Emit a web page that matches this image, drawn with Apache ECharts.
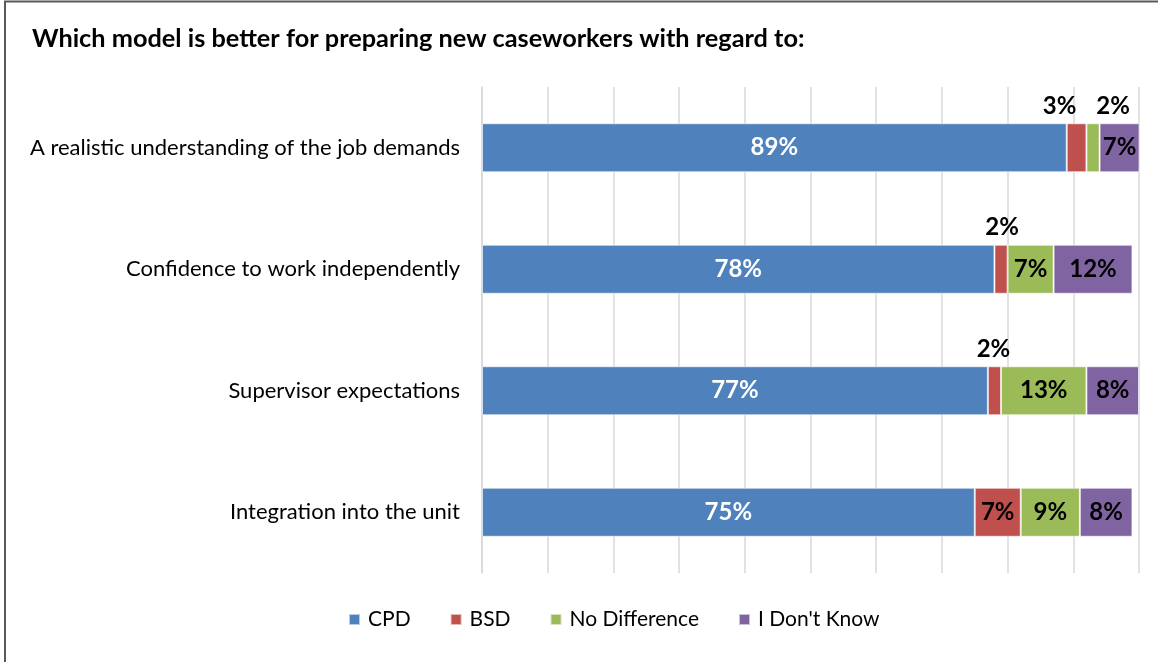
<!DOCTYPE html>
<html>
<head>
<meta charset="utf-8">
<script src="https://cdn.jsdelivr.net/npm/echarts@6/dist/echarts.min.js"></script>
<style>
  html, body { margin: 0; padding: 0; background: #ffffff; }
  #chart { width: 1158px; height: 662px; }
</style>
</head>
<body>
<div id="chart"></div>
<script>
// Survey items (top to bottom)
const categories = [
  'A realistic understanding of the job demands',
  'Confidence to work independently',
  'Supervisor expectations',
  'Integration into the unit'
];

// Percent of respondents per answer
const cpd          = [89, 78, 77, 75];
const bsd          = [3, 2, 2, 7];
const noDifference = [2, 7, 13, 9];
const dontKnow     = [7, 12, 8, 8];

const seriesNames  = ['CPD', 'BSD', 'No Difference', "I Don't Know"];
const seriesColors = ['#4F81BD', '#C0504D', '#9BBB59', '#8064A2'];

const FONT = 'Lato, "Open Sans", "Noto Sans", sans-serif';

// Narrow segments get their label lifted above the bar
const smallLabelShift = {
  'BSD': [-17, 1, -1, 0],
  'No Difference': [20, 0, 0, 0]
};

function buildData(name, values) {
  return values.map((v, i) => {
    const item = { value: v };
    if (v <= 3) {
      const dx = (smallLabelShift[name] || [])[i] || 0;
      item.label = {
        position: 'top',
        distance: 5,
        offset: [dx, 0],
        color: '#000000'
      };
    }
    return item;
  });
}

const allValues = [cpd, bsd, noDifference, dontKnow];

const series = seriesNames.map((name, k) => ({
  name: name,
  type: 'bar',
  stack: 'total',
  barWidth: 49,
  clip: true,
  itemStyle: {
    color: seriesColors[k],
    borderColor: 'rgba(255,255,255,0.6)',
    borderWidth: 1
  },
  label: {
    show: true,
    position: 'inside',
    formatter: '{c}%',
    fontFamily: FONT,
    fontWeight: 'bold',
    fontSize: 24,
    color: k === 0 ? '#ffffff' : '#000000'
  },
  emphasis: { disabled: true },
  data: buildData(name, allValues[k])
}));

const chart = echarts.init(document.getElementById('chart'), null, { renderer: 'canvas' });

chart.setOption({
  animation: false,
  backgroundColor: '#ffffff',
  title: {
    text: 'Which model is better for preparing new caseworkers with regard to:',
    left: 27,
    top: 21,
    textStyle: {
      fontFamily: FONT,
      fontWeight: 'bold',
      fontSize: 25.3,
      color: '#000000'
    }
  },
  legend: {
    left: 343,
    top: 604,
    icon: 'rect',
    itemWidth: 11,
    itemHeight: 11,
    itemGap: 39,
    textStyle: { fontFamily: FONT, fontSize: 21, color: '#000000', padding: [0, 0, 0, 3] },
    data: seriesNames
  },
  grid: {
    left: 482,
    right: 19,
    top: 87,
    bottom: 89,
    containLabel: false
  },
  xAxis: {
    type: 'value',
    min: 0,
    max: 100,
    interval: 10,
    axisLabel: { show: false },
    axisTick: { show: false },
    axisLine: { show: false },
    splitLine: { show: true, lineStyle: { color: '#D9D9D9', width: 1.5 } }
  },
  yAxis: {
    type: 'category',
    inverse: true,
    data: categories,
    axisTick: { show: false },
    axisLine: { show: true, lineStyle: { color: '#D9D9D9', width: 1.5 } },
    axisLabel: {
      margin: 22,
      fontFamily: FONT,
      fontSize: 22,
      color: '#000000'
    }
  },
  graphic: [{
    type: 'rect',
    silent: true,
    shape: { x: 5, y: 1.5, width: 1300, height: 800 },
    style: { fill: 'none', stroke: '#595959', lineWidth: 2 }
  }],
  series: series
});
</script>
</body>
</html>
